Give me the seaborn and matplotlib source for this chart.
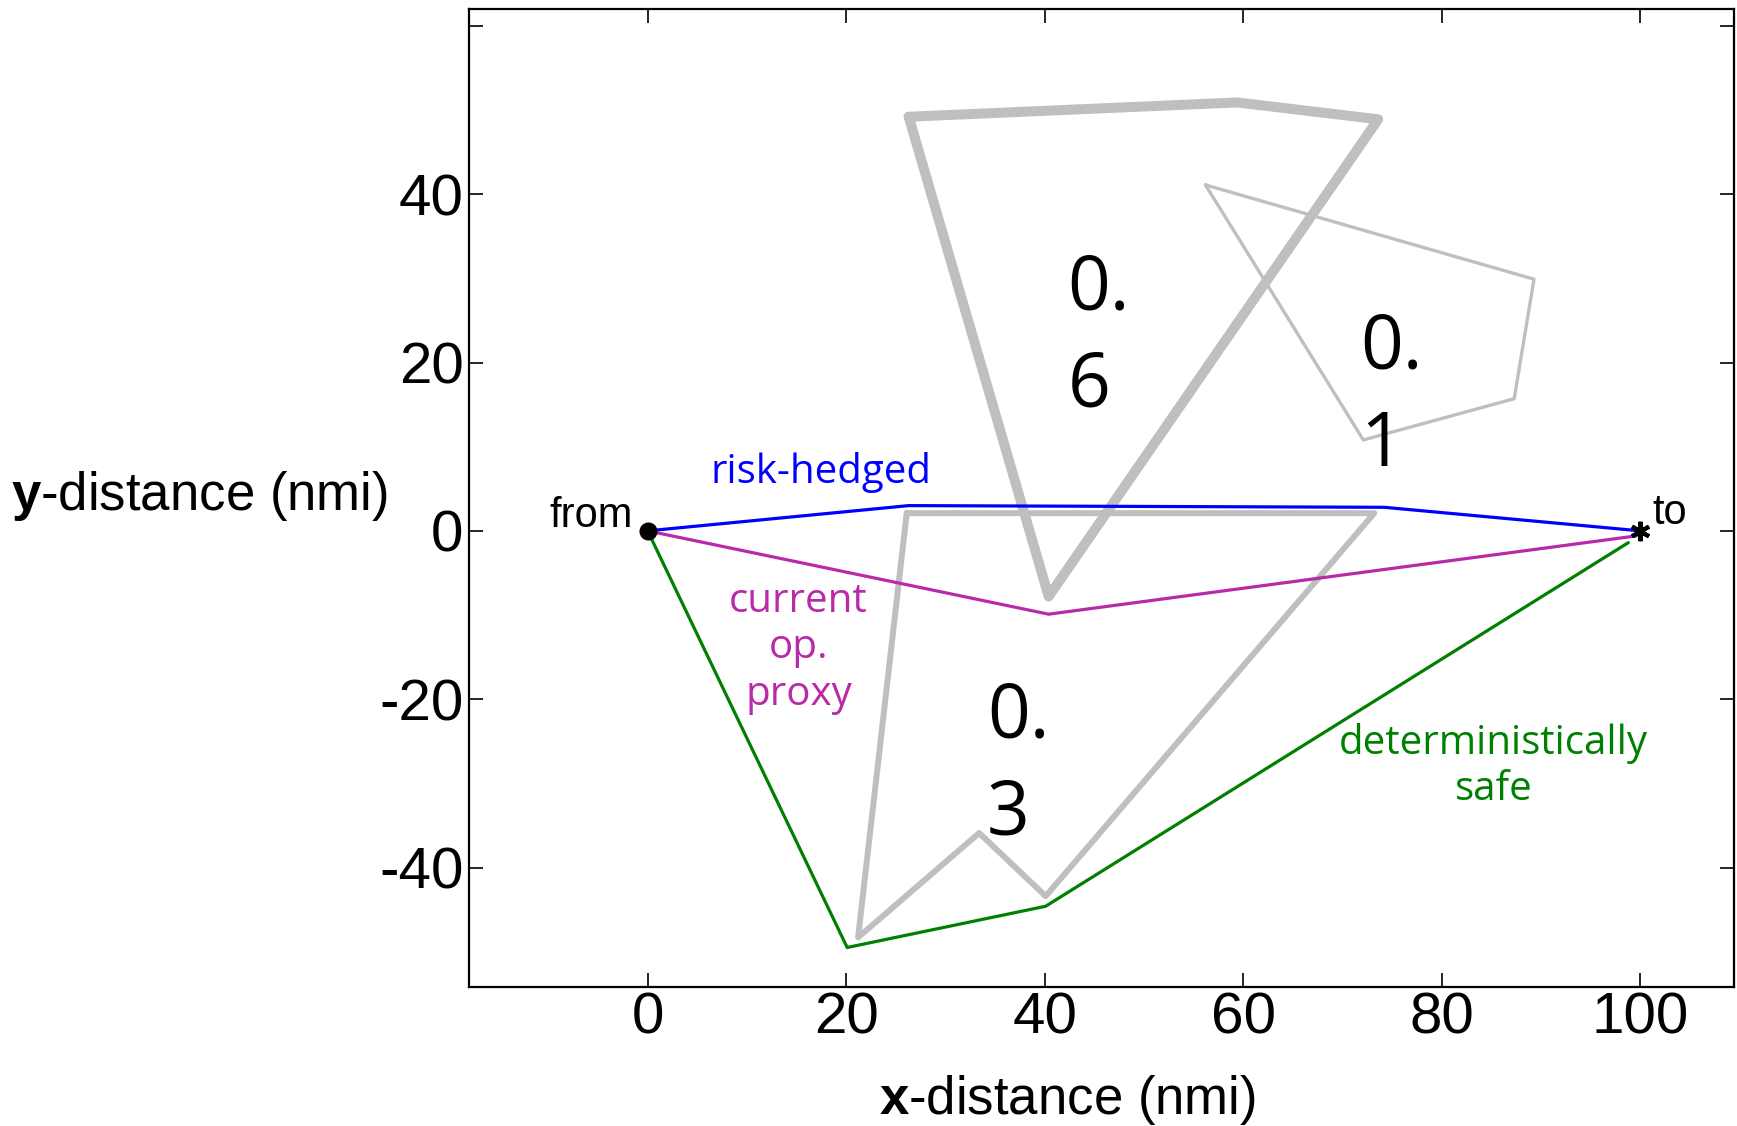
import matplotlib
matplotlib.use("Agg")
import matplotlib.pyplot as plt
import seaborn as sns

# route paths (nmi)
hedged_x = [0, 26.3, 74.2, 100]
hedged_y = [0, 3.0, 2.8, 0]
proxy_x = [0, 40.4, 99.6]
proxy_y = [0, -9.9, -0.6]
safe_x = [0, 20.1, 40.1, 98.8]
safe_y = [0, -49.5, -44.6, -1.4]

# weather cells (closed polygons) and their probabilities
cell6_x = [26.3, 59.4, 73.6, 40.4, 26.3]
cell6_y = [49.2, 50.9, 48.9, -7.8, 49.2]
cell1_x = [56.2, 89.3, 87.3, 72.1, 56.2]
cell1_y = [41.1, 29.9, 15.7, 10.8, 41.1]
cell3_x = [26.1, 73.2, 40.1, 33.4, 21.2, 26.1]
cell3_y = [2.1, 2.1, -43.4, -35.9, -48.3, 2.1]
cell_probs = ["0.\n6", "0.\n1", "0.\n3"]

xticks = [0, 20, 40, 60, 80, 100]
yticks = [-40, -20, 0, 20, 40, 60]
yticklabels = ["-40", "-20", "0", "20", "40", ""]

sns.set_style("ticks")
plt.rcParams["font.family"] = ["Liberation Sans", "DejaVu Sans"]
plt.rcParams["mathtext.fontset"] = "custom"
plt.rcParams["mathtext.rm"] = "Liberation Sans"
plt.rcParams["mathtext.bf"] = "Liberation Sans:bold"
plt.rcParams["text.color"] = "black"
plt.rcParams["axes.labelcolor"] = "black"
plt.rcParams["xtick.color"] = "black"
plt.rcParams["ytick.color"] = "black"

fig = plt.figure(figsize=(17.37, 11.26), dpi=100)
ax = fig.add_axes([0.270, 0.1234, 0.728, 0.8686])

gray = "#bfbfbf"
blue = "#0000ff"
magenta = "#b92aa8"
green = "#008000"

sns.lineplot(x=cell6_x, y=cell6_y, sort=False, estimator=None, color=gray, lw=7.2, ax=ax)
sns.lineplot(x=cell1_x, y=cell1_y, sort=False, estimator=None, color=gray, lw=2.4, ax=ax)
sns.lineplot(x=cell3_x, y=cell3_y, sort=False, estimator=None, color=gray, lw=4.3, ax=ax)

sns.lineplot(x=hedged_x, y=hedged_y, sort=False, estimator=None, color=blue, lw=2.3, ax=ax)
sns.lineplot(x=proxy_x, y=proxy_y, sort=False, estimator=None, color=magenta, lw=2.3, ax=ax)
sns.lineplot(x=safe_x, y=safe_y, sort=False, estimator=None, color=green, lw=2.3, ax=ax)

ax.plot(hedged_x[0], hedged_y[0], "o", color="black", ms=12)
ax.plot(hedged_x[-1], hedged_y[-1], marker=(6, 2, 0), color="black", ms=14, mew=3)

big = dict(family="Open Sans", fontsize=54, ha="left", va="center", linespacing=1.385)
ax.text(42.3, 22.8, cell_probs[0], **big)
ax.text(71.8, 15.8, cell_probs[1], **big)
ax.text(34.2, -28.0, cell_probs[2], **big)

lab = dict(family="Open Sans", fontsize=29, ha="center", va="center", linespacing=1.2)
ax.text(17.5, 6.9, "risk-hedged", color=blue, **lab)
ax.text(15.2, -13.9, "current\nop.\nproxy", color=magenta, **lab)
ax.text(85.2, -28.0, "deterministically\nsafe", color=green, **lab)
ax.text(-1.5, 0.4, "from", fontsize=30, ha="right", va="baseline")
ax.text(101.2, 0.8, "to", fontsize=30, ha="left", va="baseline")

ax.set_xlim(-18, 109.4)
ax.set_ylim(-54.2, 62)
ax.set_xticks(xticks)
ax.set_xticklabels([str(v) for v in xticks])
ax.set_yticks(yticks)
ax.set_yticklabels(yticklabels)
ax.tick_params(direction="in", length=10, width=1.2, labelsize=42,
               top=True, right=True)
ax.tick_params(axis="x", pad=3)
ax.tick_params(axis="y", pad=4)
for s in ax.spines.values():
    s.set_linewidth(1.6)
    s.set_color("black")

ax.set_xlabel(r"$\mathbf{x}$-distance (nmi)", fontsize=38, va="center")
ax.xaxis.set_label_coords(0.473, -0.115)
ax.set_ylabel(r"$\mathbf{y}$-distance (nmi)", fontsize=38, rotation=0,
              ha="right", va="center")
ax.yaxis.set_label_coords(-0.064, 0.502)

fig.savefig("out.png", dpi=100)
